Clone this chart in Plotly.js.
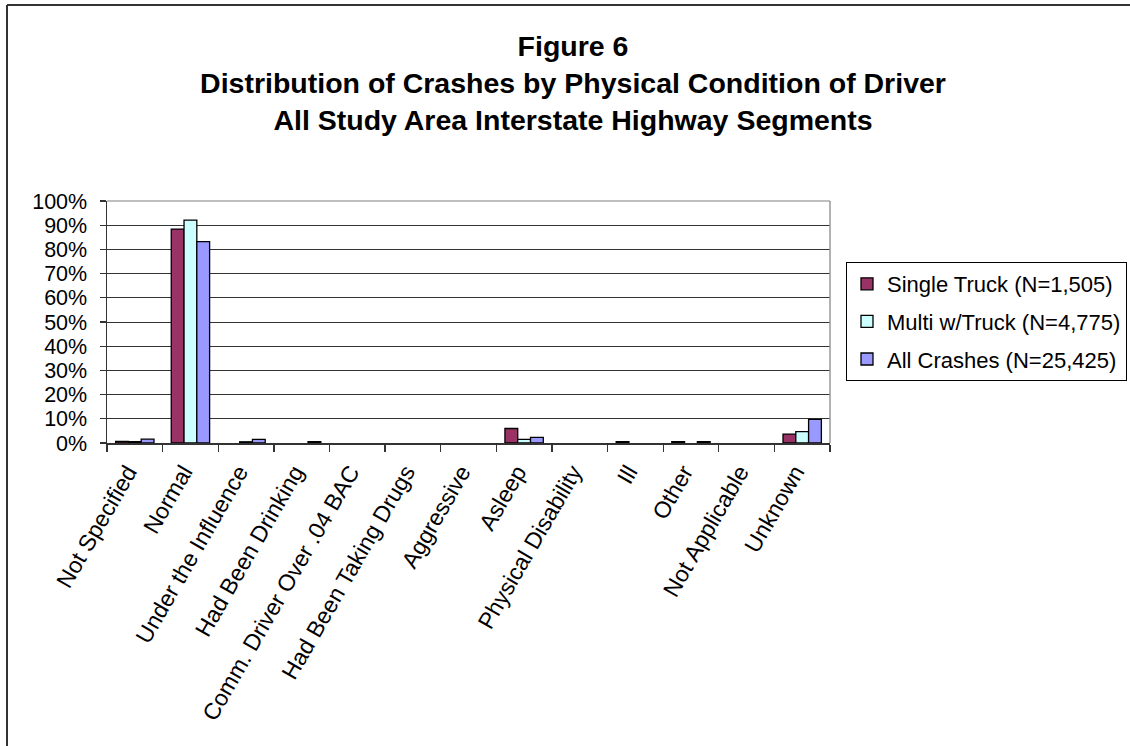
<!DOCTYPE html>
<html>
<head>
<meta charset="utf-8">
<script src="https://cdn.plot.ly/plotly-3.0.1.min.js"></script>
<style>
  html, body { margin: 0; padding: 0; background: #fff; }
  #chart { width: 1130px; height: 746px; }
</style>
</head>
<body>
<div id="chart"></div>
<script>
// Categories (x axis)
const categories = [
  "Not Specified", "Normal", "Under the Influence", "Had Been Drinking",
  "Comm. Driver Over .04 BAC", "Had Been Taking Drugs", "Aggressive",
  "Asleep", "Physical Disability", "Ill", "Other", "Not Applicable", "Unknown"
];

// Series values (percent of crashes)
const singleTruck = [0.7, 88.4, 0, 0, 0, 0, 0, 6.0, 0, 0.6, 0.6, 0, 3.7];
const multiTruck  = [0.6, 92.1, 0.5, 0, 0, 0, 0, 1.5, 0, 0, 0, 0, 4.7];
const allCrashes  = [1.6, 83.2, 1.5, 0.6, 0, 0, 0, 2.3, 0, 0, 0.6, 0, 9.8];

const seriesNames = [
  "Single Truck (N=1,505)",
  "Multi w/Truck (N=4,775)",
  "All Crashes (N=25,425)"
];

// Y tick values / labels
const yTickVals = [0, 10, 20, 30, 40, 50, 60, 70, 80, 90, 100];
const yTickText = ["0%", "10%", "20%", "30%", "40%", "50%", "60%", "70%", "80%", "90%", "100%"];

const colors = ["#993366", "#CCFFFF", "#9999FF"];
const seriesValues = [singleTruck, multiTruck, allCrashes];

const FONT = "Liberation Sans, Arial, Helvetica, sans-serif";

// zero values are not drawn (no bar outline), like the original
const traces = seriesValues.map((vals, i) => ({
  type: "bar",
  name: seriesNames[i],
  x: categories,
  y: vals.map(v => (v === 0 ? null : v)),
  legendgroup: "g" + i,
  marker: { color: colors[i], line: { color: "#000", width: 1.3 } },
  hoverinfo: "x+y+name"
}));

// plot area in pixels: left 107, right 830, top 201, bottom 443
const L = 107, R = 830, T = 201, B = 443;
const px = (x) => (x - L) / (R - L);
const py = (y) => (B - y) / (B - T);

const layout = {
  width: 1130,
  height: 746,
  margin: { l: L, r: 1130 - R, t: T, b: 746 - B, autoexpand: false },
  paper_bgcolor: "#fff",
  plot_bgcolor: "#fff",
  font: { family: FONT, color: "#000", size: 21 },
  title: {
    text: "<b>Figure 6</b><br><b>Distribution of Crashes by Physical Condition of Driver</b><br><b>All Study Area Interstate Highway Segments</b>",
    font: { family: FONT, size: 28.5, color: "#000" },
    x: 573 / 1130,
    xanchor: "center",
    y: 1 - 56 / 746,
    yanchor: "middle"
  },
  barmode: "group",
  bargap: 0.31,
  bargroupgap: 0,
  showlegend: true,
  legend: {
    x: px(846),
    y: py(262),
    xanchor: "left",
    yanchor: "top",
    bgcolor: "#fff",
    bordercolor: "#000",
    borderwidth: 1,
    font: { family: FONT, size: 22, color: "#000" },
    tracegroupgap: 6,
    traceorder: "grouped"
  },
  xaxis: {
    type: "category",
    tickangle: -60,
    tickfont: { family: FONT, size: 23, color: "#000" },
    showline: true,
    linecolor: "#333",
    linewidth: 1.5,
    ticks: "outside",
    tickson: "boundaries",
    ticklen: 7,
    tickcolor: "#333",
    tickwidth: 1.3,
    ticklabelstandoff: 5,
    ticklabelshift: -7,
    showgrid: false,
    zeroline: false,
    fixedrange: true
  },
  yaxis: {
    range: [0, 100],
    tickvals: yTickVals,
    ticktext: yTickText,
    tickfont: { family: FONT, size: 21.5, color: "#000" },
    showline: true,
    linecolor: "#333",
    linewidth: 1.5,
    ticks: "outside",
    ticklen: 6,
    tickcolor: "#333",
    tickwidth: 1.3,
    ticklabelstandoff: 8,
    showgrid: true,
    gridcolor: "#333",
    gridwidth: 1,
    zeroline: false,
    fixedrange: true
  },
  shapes: [
    // light gray top and right borders of the plot area
    { type: "line", xref: "paper", yref: "paper", x0: 0, x1: 1, y0: 1, y1: 1,
      line: { color: "#aaa", width: 1.5 }, layer: "above" },
    { type: "line", xref: "paper", yref: "paper", x0: 1, x1: 1, y0: 0, y1: 1,
      line: { color: "#999", width: 1.5 }, layer: "above" },
    // outer chart frame (top and left edges)
    { type: "line", xref: "paper", yref: "paper", x0: px(7), x1: px(1135), y0: py(5), y1: py(5),
      line: { color: "#333", width: 2 }, layer: "above" },
    { type: "line", xref: "paper", yref: "paper", x0: px(7), x1: px(7), y0: py(5), y1: py(750),
      line: { color: "#333", width: 2 }, layer: "above" }
  ]
};

Plotly.newPlot("chart", traces, layout, { displayModeBar: false, staticPlot: true });
</script>
</body>
</html>
